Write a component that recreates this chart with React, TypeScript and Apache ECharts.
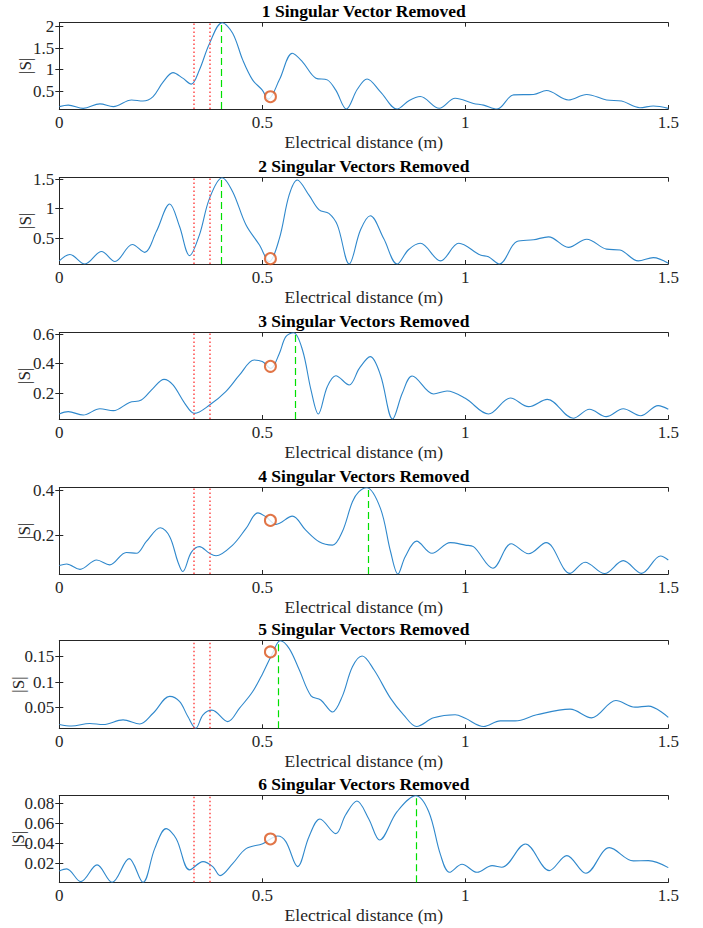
import React, { useEffect, useRef } from 'react';
import * as echarts from 'echarts';

const titles = [
  '1 Singular Vector Removed',
  '2 Singular Vectors Removed',
  '3 Singular Vectors Removed',
  '4 Singular Vectors Removed',
  '5 Singular Vectors Removed',
  '6 Singular Vectors Removed',
];
const xLabel = 'Electrical distance (m)';
const yLabel = '|S|';

const s1: [number, number][] = [[0,0.135],[0.022,0.17],[0.059,0.095],[0.10,0.20],[0.133,0.135],[0.178,0.29],[0.206,0.265],[0.231,0.37],[0.255,0.7],[0.28,0.93],[0.304,0.80],[0.325,0.66],[0.345,0.99],[0.37,1.61],[0.401,2.094],[0.427,1.85],[0.452,1.22],[0.476,0.76],[0.50,0.52],[0.515,0.31],[0.542,0.76],[0.574,1.38],[0.599,1.18],[0.632,0.80],[0.66,0.76],[0.681,0.52],[0.707,0.08],[0.734,0.54],[0.758,0.78],[0.791,0.48],[0.832,0.08],[0.862,0.28],[0.889,0.37],[0.936,0.096],[0.975,0.33],[1.02,0.21],[1.045,0.17],[1.078,0.08],[1.119,0.41],[1.168,0.42],[1.20,0.51],[1.254,0.29],[1.299,0.42],[1.348,0.29],[1.385,0.265],[1.43,0.11],[1.463,0.15],[1.5,0.095]];
const s2: [number, number][] = [[0,0.11],[0.026,0.22],[0.063,0.057],[0.104,0.27],[0.137,0.10],[0.18,0.39],[0.21,0.256],[0.239,0.61],[0.272,1.08],[0.296,0.7],[0.321,0.2],[0.345,0.55],[0.37,1.176],[0.401,1.528],[0.427,1.29],[0.46,0.72],[0.493,0.38],[0.517,0.097],[0.542,0.49],[0.566,1.23],[0.586,1.49],[0.615,1.23],[0.64,0.98],[0.664,0.92],[0.685,0.72],[0.714,0.057],[0.742,0.64],[0.766,0.88],[0.799,0.49],[0.832,0.057],[0.86,0.3],[0.889,0.41],[0.939,0.11],[0.984,0.41],[1.037,0.21],[1.057,0.18],[1.084,0.057],[1.127,0.44],[1.168,0.47],[1.205,0.52],[1.254,0.34],[1.299,0.48],[1.348,0.31],[1.381,0.295],[1.426,0.11],[1.463,0.165],[1.5,0.07]];
const s3: [number, number][] = [[0,0.057],[0.022,0.073],[0.059,0.05],[0.10,0.093],[0.133,0.08],[0.173,0.136],[0.202,0.152],[0.231,0.232],[0.258,0.293],[0.28,0.255],[0.309,0.13],[0.333,0.061],[0.37,0.118],[0.41,0.21],[0.444,0.323],[0.48,0.425],[0.50,0.414],[0.521,0.368],[0.542,0.47],[0.558,0.584],[0.577,0.611],[0.599,0.493],[0.62,0.22],[0.638,0.057],[0.66,0.243],[0.681,0.318],[0.714,0.255],[0.739,0.368],[0.766,0.448],[0.791,0.323],[0.821,0.023],[0.845,0.2],[0.869,0.316],[0.922,0.193],[0.955,0.214],[1.0,0.164],[1.057,0.057],[1.111,0.166],[1.156,0.107],[1.202,0.157],[1.266,0.028],[1.306,0.089],[1.347,0.039],[1.389,0.093],[1.432,0.045],[1.475,0.114],[1.5,0.089]];
const s4: [number, number][] = [[0,0.063],[0.018,0.07],[0.051,0.046],[0.092,0.088],[0.124,0.066],[0.165,0.122],[0.19,0.118],[0.214,0.17],[0.249,0.233],[0.272,0.193],[0.292,0.08],[0.304,0.036],[0.325,0.122],[0.345,0.148],[0.37,0.118],[0.386,0.107],[0.427,0.155],[0.46,0.23],[0.489,0.30],[0.509,0.282],[0.534,0.248],[0.574,0.285],[0.607,0.222],[0.64,0.17],[0.673,0.155],[0.697,0.215],[0.722,0.35],[0.738,0.395],[0.757,0.413],[0.791,0.32],[0.816,0.125],[0.834,0.025],[0.852,0.103],[0.88,0.173],[0.918,0.118],[0.963,0.166],[1.0,0.155],[1.02,0.148],[1.068,0.051],[1.113,0.161],[1.156,0.116],[1.199,0.166],[1.258,0.028],[1.295,0.078],[1.343,0.027],[1.389,0.085],[1.434,0.028],[1.481,0.106],[1.5,0.088]];
const s5: [number, number][] = [[0,0.017],[0.03,0.014],[0.075,0.019],[0.108,0.017],[0.157,0.026],[0.198,0.018],[0.231,0.039],[0.272,0.072],[0.296,0.062],[0.317,0.032],[0.336,0.0095],[0.354,0.036],[0.376,0.045],[0.415,0.0225],[0.444,0.049],[0.476,0.081],[0.501,0.117],[0.525,0.156],[0.544,0.181],[0.566,0.166],[0.591,0.124],[0.62,0.073],[0.644,0.065],[0.673,0.0415],[0.697,0.072],[0.722,0.13],[0.746,0.151],[0.775,0.124],[0.816,0.068],[0.848,0.036],[0.88,0.013],[0.922,0.030],[0.975,0.036],[1.0,0.029],[1.045,0.013],[1.086,0.024],[1.123,0.024],[1.176,0.036],[1.258,0.047],[1.311,0.030],[1.371,0.064],[1.418,0.051],[1.451,0.053],[1.5,0.031]];
const s6: [number, number][] = [[0,0.0127],[0.018,0.0147],[0.053,0.002],[0.093,0.0187],[0.13,0.0013],[0.172,0.025],[0.206,0.0013],[0.235,0.035],[0.263,0.055],[0.288,0.045],[0.321,0.0137],[0.354,0.022],[0.378,0.017],[0.396,0.008],[0.427,0.020],[0.46,0.035],[0.501,0.040],[0.538,0.0477],[0.558,0.042],[0.587,0.017],[0.615,0.047],[0.642,0.0647],[0.681,0.050],[0.705,0.0687],[0.733,0.0827],[0.762,0.065],[0.789,0.0437],[0.832,0.072],[0.878,0.088],[0.91,0.072],[0.939,0.0287],[0.961,0.0113],[0.992,0.0193],[1.029,0.0113],[1.066,0.018],[1.09,0.0163],[1.148,0.0397],[1.207,0.013],[1.25,0.028],[1.297,0.0103],[1.355,0.036],[1.414,0.0227],[1.451,0.023],[1.5,0.016]];
const curves = [s1, s2, s3, s4, s5, s6];

const circles: [number, number][] = [[0.52,0.367],[0.52,0.148],[0.52,0.382],[0.52,0.266],[0.52,0.159],[0.52,0.0447]];
const peakX = [0.401, 0.401, 0.577, 0.757, 0.544, 0.878];
const redX = [0.333, 0.371];

const yMin = [0.08, 0.057, 0.023, 0.025, 0.0095, 0.0013];
const yMax = [2.094, 1.528, 0.611, 0.413, 0.181, 0.088];
const yTicks = [[0.5,1,1.5,2],[0.5,1,1.5],[0.2,0.4,0.6],[0.2,0.4],[0.05,0.1,0.15],[0.02,0.04,0.06,0.08]];
const xTicks = [0, 0.5, 1, 1.5];

const gridTops = [22.7, 177.7, 332.7, 487.7, 640.7, 795.7];
const gridHeights = [86.3, 86.3, 86.3, 86.3, 87.6, 86.6];
const yLabelX = [25, 25, 24.5, 24.5, 18, 18];

const FONT = 'Liberation Serif';
const AX = '#262626';

export default function App() {
  const ref = useRef<HTMLDivElement>(null);
  useEffect(() => {
    const chart = echarts.init(ref.current!, null, { renderer: 'svg' });
    const LEFT = 59.3;
    const W = 609;
    const grid: any[] = [];
    const xAxis: any[] = [];
    const yAxis: any[] = [];
    const series: any[] = [];
    const graphic: any[] = [];
    for (let i = 0; i < 6; i++) {
      grid.push({ left: LEFT, width: W, top: gridTops[i], height: gridHeights[i], show: false });
      const xBase = {
        type: 'value', gridIndex: i, min: 0, max: 1.5, interval: 0.5,
        splitLine: { show: false },
        axisLine: { show: true, lineStyle: { color: AX, width: 1 } },
        axisTick: { show: true, inside: true, length: 4, lineStyle: { color: AX } },
      };
      xAxis.push({ ...xBase, position: 'bottom',
        axisLabel: { show: true, margin: 5, color: AX, fontSize: 17, fontFamily: FONT, customValues: xTicks } });
      xAxis.push({ ...xBase, position: 'top', axisLabel: { show: false } });
      const yBase = {
        type: 'value', gridIndex: i, min: yMin[i], max: yMax[i],
        splitLine: { show: false },
        axisLine: { show: true, lineStyle: { color: AX, width: 1 } },
        axisTick: { show: true, inside: true, length: 4, lineStyle: { color: AX }, customValues: yTicks[i] },
      };
      yAxis.push({ ...yBase, position: 'left',
        axisLabel: { show: true, margin: 5, color: AX, fontSize: 17, fontFamily: FONT, customValues: yTicks[i] } });
      yAxis.push({ ...yBase, position: 'right', axisLabel: { show: false } });

      series.push({
        type: 'line', xAxisIndex: 2 * i, yAxisIndex: 2 * i,
        data: curves[i], smooth: 0.35, showSymbol: false, symbol: 'none',
        lineStyle: { color: '#2f88cc', width: 1.1 },
        itemStyle: { color: '#2f88cc' },
        z: 2,
      });
      series.push({
        type: 'line', xAxisIndex: 2 * i, yAxisIndex: 2 * i, data: [],
        itemStyle: { color: '#ff0000' },
        markLine: {
          silent: true, symbol: ['none', 'none'], label: { show: false },
          lineStyle: { color: '#ff4a4a', width: 1.5, type: [1.5, 2.5] },
          data: [{ xAxis: redX[0] }, { xAxis: redX[1] }],
        },
        z: 1,
      });
      series.push({
        type: 'line', xAxisIndex: 2 * i, yAxisIndex: 2 * i, data: [],
        itemStyle: { color: '#00e000' },
        markLine: {
          silent: true, symbol: ['none', 'none'], label: { show: false },
          lineStyle: { color: '#00e000', width: 1.2, type: [7, 4] },
          data: [{ xAxis: peakX[i] }],
        },
        z: 1,
      });
      series.push({
        type: 'scatter', xAxisIndex: 2 * i, yAxisIndex: 2 * i,
        data: [circles[i]], symbol: 'emptyCircle', symbolSize: 11,
        itemStyle: { color: '#D95319', borderColor: '#D95319', borderWidth: 1 },
        z: 3,
      });

      graphic.push({
        type: 'text', x: LEFT + W / 2, y: gridTops[i] - 11.5,
        style: { text: titles[i], fontSize: 17.5, fontWeight: 'bold', fontFamily: FONT, fill: '#000', align: 'center', verticalAlign: 'middle' },
      });
      graphic.push({
        type: 'text', x: LEFT + W / 2, y: gridTops[i] + gridHeights[i] + 33,
        style: { text: xLabel, fontSize: 17.5, fontFamily: FONT, fill: AX, align: 'center', verticalAlign: 'middle' },
      });
      graphic.push({
        type: 'text', x: yLabelX[i], y: gridTops[i] + gridHeights[i] / 2, rotation: Math.PI / 2,
        style: { text: yLabel, fontSize: 17, fontFamily: FONT, fill: AX, align: 'center', verticalAlign: 'middle' },
      });
    }
    chart.setOption({ animation: false, backgroundColor: '#fff', textStyle: { fontFamily: FONT }, grid, xAxis, yAxis, series, graphic });
    return () => chart.dispose();
  }, []);
  return <div ref={ref} style={{ position: 'absolute', left: 0, top: 0, width: 703, height: 928 }} />;
}
